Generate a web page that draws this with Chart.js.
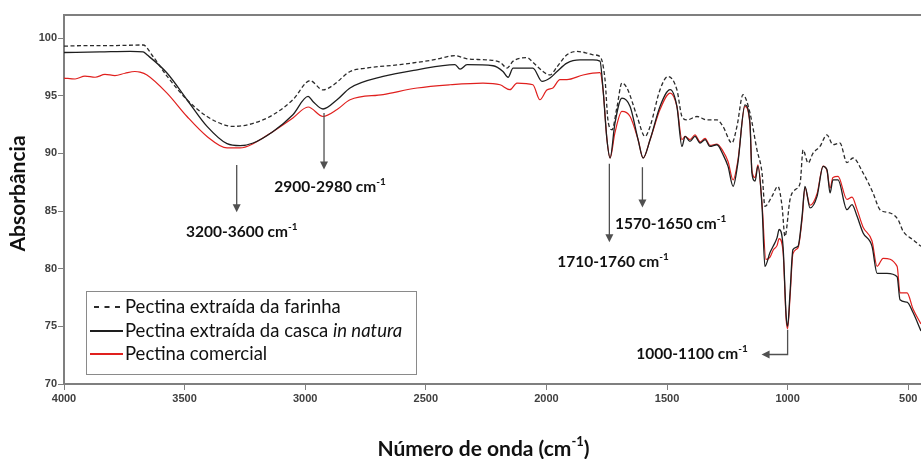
<!DOCTYPE html>
<html>
<head>
<meta charset="utf-8">
<script src="https://cdn.jsdelivr.net/npm/chart.js@4/dist/chart.umd.min.js"></script>
<style>
  html, body { margin: 0; padding: 0; background: #ffffff; }
  canvas { display: block; }
</style>
</head>
<body>
<canvas id="ftir" width="921" height="459"></canvas>
<script>
// FTIR spectra of three pectin samples (wavenumber in cm-1, absorbance)
const wnFarinha = [4000,3900,3800,3672,3631,3573,3490,3407,3324,3299,3216,3133,3051,2980,2926,2885,2814,2744,2607,2470,2379,2329,2246,2192,2163,2138,2080,2056,2014,1985,1956,1915,1873,1832,1807,1778,1757,1745,1728,1707,1687,1666,1624,1591,1570,1529,1496,1459,1438,1417,1376,1334,1293,1268,1231,1210,1185,1156,1127,1106,1094,1065,1040,1023,1011,990,969,948,936,915,895,866,837,812,783,754,729,687,646,617,575,542,521,480,447];
const absFarinha = [99.3,99.35,99.35,99.4,98.4,96.7,94.65,93.2,92.4,92.34,92.6,93.35,94.65,96.3,95.5,95.9,97.1,97.4,97.7,98.1,98.47,98.2,98.1,97.9,97.4,98.0,98.3,97.9,97.1,96.8,97.5,98.55,98.84,98.7,98.55,98.4,96.4,92.9,92.05,94.07,96.1,95.67,93.2,91.47,92.34,95.52,96.67,95.52,93.2,92.9,93.2,92.9,92.9,92.34,90.9,92.34,95.09,93.5,90.3,88.3,85.4,86.27,87.14,85.4,82.8,86.0,86.85,87.44,90.3,89.17,90.0,90.6,91.6,90.75,90.9,89.2,89.6,88.3,86.57,85.12,84.83,84.25,83.24,82.5,81.94];

const wnCasca = [4000,3851,3726,3672,3656,3573,3490,3407,3324,3270,3216,3133,3051,2988,2968,2926,2868,2814,2677,2536,2379,2358,2329,2221,2180,2159,2138,2056,2018,1985,1956,1915,1861,1807,1778,1765,1749,1736,1716,1687,1653,1620,1599,1570,1529,1487,1459,1438,1425,1405,1384,1363,1342,1322,1293,1268,1247,1226,1206,1177,1156,1148,1135,1123,1106,1094,1073,1060,1044,1035,1019,1006,1000,990,978,957,940,928,907,878,853,837,824,812,791,754,733,712,687,650,629,588,546,534,505,480,447];
const absCasca = [98.75,98.8,98.85,98.8,98.55,96.97,94.65,92.34,90.84,90.67,90.9,91.9,93.35,94.94,94.5,93.85,94.65,95.67,96.67,97.25,97.69,97.3,97.69,97.6,97.1,96.6,97.4,97.4,96.24,96.53,97.1,97.83,98.1,98.1,98.0,95.5,91.2,89.6,92.6,94.8,94.07,91.2,89.6,91.2,94.07,95.52,94.07,90.6,91.47,91.04,91.47,90.9,91.2,90.6,90.75,89.9,88.87,87.14,89.2,94.2,92.6,88.3,87.6,88.9,85.4,80.2,81.4,81.94,82.67,83.4,81.94,75.9,75.0,77.9,81.65,81.94,84.54,87.14,85.27,86.27,88.87,88.6,86.57,87.7,87.7,85.12,85.56,84.54,83.1,81.94,79.6,79.6,79.3,77.3,77.1,76.2,74.6];

const wnComercial = [4000,3954,3913,3871,3830,3789,3747,3706,3685,3656,3573,3490,3407,3324,3270,3216,3133,3051,2988,2926,2868,2814,2677,2536,2400,2263,2192,2151,2122,2056,2027,1998,1973,1944,1915,1848,1778,1765,1749,1736,1716,1687,1653,1620,1599,1570,1529,1487,1459,1438,1425,1405,1384,1363,1342,1322,1293,1268,1247,1226,1206,1177,1156,1148,1135,1123,1106,1090,1073,1060,1044,1035,1019,1006,1000,990,978,957,940,928,907,878,853,837,824,812,791,754,733,712,687,650,629,604,546,534,505,480,447];
const absComercial = [96.53,96.45,96.7,96.6,96.85,96.75,96.95,97.1,97.05,96.8,95.23,93.2,91.47,90.47,90.47,90.84,91.9,93.07,94.02,93.2,93.8,94.65,95.1,95.67,95.95,96.1,95.95,95.52,96.1,95.95,94.65,95.5,95.67,96.4,96.4,96.8,97.0,95.5,91.2,89.6,91.77,93.64,93.2,91.2,89.6,91.2,93.8,95.23,94.07,91.2,91.47,91.2,91.6,91.0,91.3,90.7,90.8,90.2,89.3,87.7,89.4,94.07,92.5,88.5,87.9,89.0,85.6,80.8,81.0,81.6,82.0,82.6,81.5,75.6,74.8,77.5,81.3,81.8,84.3,87.0,85.5,86.5,88.9,88.5,87.0,87.9,88.0,86.0,86.2,85.12,83.6,82.4,80.2,80.9,80.2,77.9,77.9,76.5,75.2];

const xTicks = [4000, 3500, 3000, 2500, 2000, 1500, 1000, 500];
const yTicks = [70, 75, 80, 85, 90, 95, 100];

const seriesNames = ['Pectina extraída da farinha', 'Pectina extraída da casca ', 'Pectina comercial'];

// band annotations: arrow at wavenumber `at`, from/to absorbance, label centre
const bands = [
  { text: '3200-3600', at: 3284, from: 89.0, to: 84.9, lx: 3263, ly: 83.2 },
  { text: '2900-2980', at: 2922, from: 93.5, to: 88.6, lx: 2897, ly: 87.1 },
  { text: '1570-1650', at: 1602, from: 88.8, to: 85.3, lx: 1485, ly: 83.9 },
  { text: '1710-1760', at: 1739, from: 89.1, to: 82.3, lx: 1724, ly: 80.6 },
  { text: '1000-1100', at: 1000, from: 74.7, to: 72.56, elbowTo: 1108, lx: 1396, ly: 72.64 }
];

const pts = (xs, ys) => xs.map((x, i) => ({ x, y: ys[i] }));

const AXIS_GREY = '#7f7f7f';
const TEXT_FONT = 'Lato, "Open Sans", sans-serif';

function drawArrowHead(ctx, x, y, dir) {
  ctx.beginPath();
  if (dir === 'down') {
    ctx.moveTo(x, y);
    ctx.lineTo(x - 4, y - 8);
    ctx.lineTo(x + 4, y - 8);
  } else {
    ctx.moveTo(x, y);
    ctx.lineTo(x + 8, y - 4);
    ctx.lineTo(x + 8, y + 4);
  }
  ctx.closePath();
  ctx.fill();
}

function drawSupText(ctx, parts, cx, cy, size, align) {
  // parts: [[text, isSuperscript]]
  let total = 0;
  const widths = parts.map(([t, sup]) => {
    ctx.font = 'bold ' + (sup ? Math.round(size * 0.62) : size) + 'px ' + TEXT_FONT;
    const w = ctx.measureText(t).width;
    total += w;
    return w;
  });
  let x = align === 'left' ? cx : cx - total / 2;
  ctx.textBaseline = 'middle';
  ctx.textAlign = 'left';
  parts.forEach(([t, sup], i) => {
    ctx.font = 'bold ' + (sup ? Math.round(size * 0.62) : size) + 'px ' + TEXT_FONT;
    ctx.fillText(t, x, sup ? cy - size * 0.32 : cy);
    x += widths[i];
  });
}

const decorPlugin = {
  id: 'decor',
  afterDraw(chart) {
    const { ctx, chartArea: a, scales: { x, y } } = chart;
    ctx.save();

    // top frame line
    ctx.strokeStyle = AXIS_GREY;
    ctx.lineWidth = 2;
    ctx.beginPath();
    ctx.moveTo(a.left - 1, a.top);
    ctx.lineTo(a.right, a.top);
    ctx.stroke();

    // band arrows and labels
    ctx.lineWidth = 1.3;
    bands.forEach(b => {
      const px = x.getPixelForValue(b.at);
      const y1 = y.getPixelForValue(b.from);
      const y2 = y.getPixelForValue(b.to);
      ctx.strokeStyle = '#505050';
      ctx.fillStyle = '#505050';
      ctx.beginPath();
      ctx.moveTo(px, y1);
      if (b.elbowTo) {
        const ex = x.getPixelForValue(b.elbowTo);
        ctx.lineTo(px, y2);
        ctx.lineTo(ex + 6, y2);
        ctx.stroke();
        drawArrowHead(ctx, ex, y2, 'left');
      } else {
        ctx.lineTo(px, y2 - 6);
        ctx.stroke();
        drawArrowHead(ctx, px, y2, 'down');
      }
      ctx.fillStyle = '#111111';
      drawSupText(ctx, [[b.text + ' cm', false], ['-1', true]],
        x.getPixelForValue(b.lx), y.getPixelForValue(b.ly), 15.5, 'center');
    });

    // legend box
    const L = a.left + 22, T = a.bottom - 93, W = 330, H = 83;
    ctx.strokeStyle = '#8a8a8a';
    ctx.lineWidth = 1;
    ctx.strokeRect(L + 0.5, T + 0.5, W, H);
    const rows = [T + 16, T + 40, T + 63];
    const styles = chart.data.datasets;
    rows.forEach((ry, i) => {
      const ds = styles[i];
      ctx.strokeStyle = ds.borderColor;
      ctx.lineWidth = 2;
      ctx.setLineDash(i === 0 ? [5, 5.5] : []);
      ctx.beginPath();
      ctx.moveTo(i === 0 ? L + 8 : L + 4, ry);
      ctx.lineTo(L + 37, ry);
      ctx.stroke();
      ctx.setLineDash([]);
      ctx.fillStyle = '#111111';
      ctx.textBaseline = 'middle';
      ctx.textAlign = 'left';
      ctx.font = '18.5px ' + TEXT_FONT;
      ctx.fillText(seriesNames[i], L + 39, ry);
      if (i === 1) {
        const w = ctx.measureText(seriesNames[i]).width;
        ctx.font = 'italic 18.5px ' + TEXT_FONT;
        ctx.fillText('in natura', L + 39 + w, ry);
      }
    });

    // axis titles
    ctx.fillStyle = '#111111';
    drawSupText(ctx, [['Número de onda (cm', false], ['-1', true], [')', false]],
      (a.left + a.right) / 2 - 9, 449, 21, 'center');
    ctx.save();
    ctx.translate(18, (a.top + a.bottom) / 2 - 6);
    ctx.rotate(-Math.PI / 2);
    ctx.font = 'bold 21px ' + TEXT_FONT;
    ctx.textAlign = 'center';
    ctx.textBaseline = 'middle';
    ctx.fillText('Absorbância', 0, 0);
    ctx.restore();

    ctx.restore();
  }
};

const tickFont = { family: '"Liberation Sans", Arial, sans-serif', size: 11, weight: 'bold' };

new Chart(document.getElementById('ftir'), {
  type: 'line',
  data: {
    datasets: [
      {
        label: seriesNames[0],
        data: pts(wnFarinha, absFarinha),
        borderColor: '#2b2b2b',
        borderWidth: 1.3,
        borderDash: [4, 2.5],
        pointRadius: 0,
        cubicInterpolationMode: 'monotone'
      },
      {
        label: seriesNames[1] + 'in natura',
        data: pts(wnCasca, absCasca),
        borderColor: '#1e1e1e',
        borderWidth: 1.3,
        pointRadius: 0,
        cubicInterpolationMode: 'monotone'
      },
      {
        label: seriesNames[2],
        data: pts(wnComercial, absComercial),
        borderColor: '#e0201e',
        borderWidth: 1.2,
        pointRadius: 0,
        cubicInterpolationMode: 'monotone'
      }
    ]
  },
  options: {
    responsive: false,
    animation: false,
    devicePixelRatio: 1,
    layout: { padding: { top: 15, right: 0, left: 0, bottom: 0 } },
    plugins: { legend: { display: false }, tooltip: { enabled: false } },
    scales: {
      x: {
        type: 'linear',
        reverse: true,
        min: 447,
        max: 4000,
        afterBuildTicks: s => { s.ticks = xTicks.map(v => ({ value: v })); },
        afterFit: s => { s.height = 75; },
        grid: { display: true, drawOnChartArea: false, drawTicks: true, tickLength: 6, color: AXIS_GREY, lineWidth: 1 },
        border: { display: true, color: AXIS_GREY, width: 2 },
        ticks: { font: tickFont, color: '#404040', padding: 2, maxRotation: 0, autoSkip: false, callback: v => String(v) }
      },
      y: {
        min: 70,
        max: 102,
        afterBuildTicks: s => { s.ticks = yTicks.map(v => ({ value: v })); },
        afterFit: s => { s.width = 64; },
        grid: { display: true, drawOnChartArea: false, drawTicks: true, tickLength: 6, color: AXIS_GREY, lineWidth: 1 },
        border: { display: true, color: AXIS_GREY, width: 2 },
        ticks: { font: tickFont, color: '#404040', padding: 1, callback: v => String(v) }
      }
    }
  },
  plugins: [decorPlugin]
});
</script>
</body>
</html>
